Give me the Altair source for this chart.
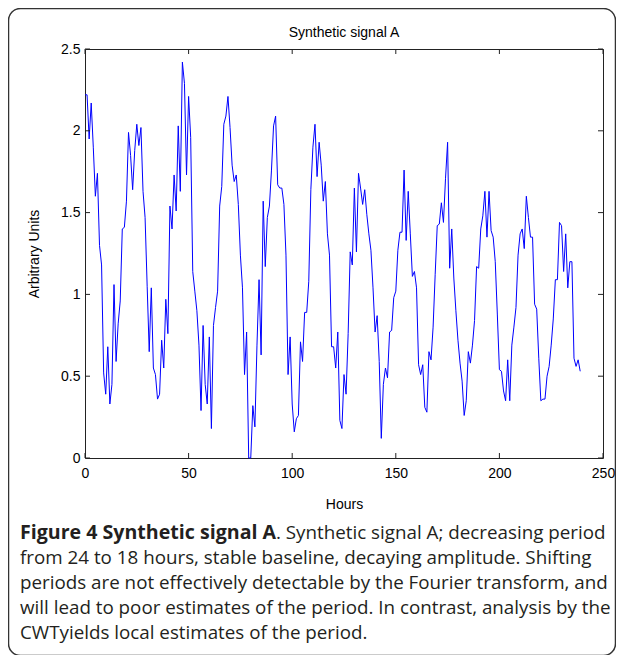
import altair as alt
import pandas as pd

hours = list(range(0, 240))
signal = [
    2.22, 2.22, 1.95, 2.17, 1.90, 1.60, 1.74, 1.30, 1.18, 0.52,
    0.39, 0.68, 0.33, 0.45, 1.06, 0.59, 0.82, 0.96, 1.40, 1.41,
    1.57, 1.99, 1.85, 1.64, 1.88, 2.04, 1.91, 2.02, 1.63, 1.47,
    1.05, 0.65, 1.04, 0.55, 0.51, 0.36, 0.39, 0.72, 0.55, 0.97,
    0.76, 1.54, 1.40, 1.73, 1.51, 2.03, 1.63, 2.42, 2.29, 1.73,
    2.21, 1.96, 1.14, 1.02, 0.90, 0.69, 0.29, 0.81, 0.45, 0.33,
    0.74, 0.18, 0.81, 0.92, 1.02, 1.54, 1.66, 2.04, 2.09, 2.21,
    2.02, 1.79, 1.69, 1.73, 1.55, 1.24, 1.04, 0.51, 0.77, 0.00,
    0.00, 0.32, 0.19, 0.69, 1.09, 0.63, 1.57, 1.17, 1.47, 1.54,
    1.76, 2.03, 2.09, 1.67, 1.65, 1.65, 1.55, 1.24, 0.51, 0.74,
    0.33, 0.16, 0.24, 0.26, 0.71, 0.59, 0.89, 0.89, 1.08, 1.64,
    1.90, 2.04, 1.72, 1.93, 1.79, 1.57, 1.69, 1.37, 1.24, 0.68,
    0.68, 0.55, 0.77, 0.23, 0.18, 0.51, 0.39, 0.76, 1.26, 1.18,
    1.65, 1.26, 1.74, 1.65, 1.55, 1.64, 1.49, 1.37, 1.27, 1.04,
    0.77, 0.87, 0.59, 0.12, 0.45, 0.55, 0.49, 0.77, 0.78, 0.98,
    1.02, 1.27, 1.38, 1.38, 1.76, 1.33, 1.63, 1.37, 1.11, 1.14,
    1.04, 0.57, 0.51, 0.57, 0.31, 0.28, 0.65, 0.60, 0.80, 1.12,
    1.42, 1.43, 1.56, 1.44, 1.71, 1.93, 1.16, 1.40, 1.10, 0.90,
    0.72, 0.58, 0.47, 0.26, 0.35, 0.65, 0.58, 0.69, 0.84, 1.17,
    1.16, 1.40, 1.48, 1.63, 1.35, 1.63, 1.39, 1.35, 1.20, 0.88,
    0.54, 0.53, 0.41, 0.35, 0.60, 0.35, 0.69, 0.80, 0.92, 1.24,
    1.37, 1.40, 1.28, 1.60, 1.47, 1.35, 1.35, 0.94, 0.91, 0.61,
    0.35, 0.36, 0.36, 0.50, 0.56, 0.69, 0.85, 1.09, 1.09, 1.44,
    1.42, 1.14, 1.37, 1.04, 1.20, 1.20, 0.61, 0.56, 0.60, 0.53,
]
x_ticks = [0, 50, 100, 150, 200, 250]
y_ticks = [0, 0.5, 1, 1.5, 2, 2.5]

chart_title = ["Synthetic signal A"]
x_title = "Hours"
y_title = "Arbitrary Units"
caption_bold = ["Figure 4 Synthetic signal A"]
caption_first = [". Synthetic signal A; decreasing period"]
caption_rest = [
    "from 24 to 18 hours, stable baseline, decaying amplitude. Shifting",
    "periods are not effectively detectable by the Fourier transform, and",
    "will lead to poor estimates of the period. In contrast, analysis by the",
    "CWTyields local estimates of the period.",
]

W, H = 518, 409
AX_FONT = "Liberation Sans"
CAP_FONT = "Open Sans"
CAP_SIZE = 18.8

df = pd.DataFrame({"Hours": hours, "Signal": signal})
xs = alt.Scale(domain=[0, 250], nice=False, zero=False)
ys = alt.Scale(domain=[0, 2.5], nice=False)

x_axis = alt.Axis(values=x_ticks, title=x_title, ticks=False, domain=False,
                  grid=False, labelFlush=False, labelPadding=8, titlePadding=17)
y_axis = alt.Axis(values=y_ticks, format="~g", title=y_title, ticks=False,
                  domain=False, grid=False, labelPadding=5, titlePadding=19)

line = alt.Chart(df).mark_line(color="#0000ff", strokeWidth=1).encode(
    x=alt.X("Hours:Q", scale=xs, axis=x_axis, title=x_title),
    y=alt.Y("Signal:Q", scale=ys, axis=y_axis, title=y_title),
)

xt = pd.DataFrame({"t": x_ticks})
yt = pd.DataFrame({"t": y_ticks})
tick_color = "#222222"
xb = alt.Chart(xt).mark_rule(color=tick_color, strokeWidth=1).encode(
    x=alt.X("t:Q", scale=xs, axis=x_axis, title=x_title),
    y=alt.value(H), y2=alt.value(H - 5))
xtp = alt.Chart(xt).mark_rule(color=tick_color, strokeWidth=1).encode(
    x=alt.X("t:Q", scale=xs, axis=x_axis, title=x_title),
    y=alt.value(0), y2=alt.value(5))
yl = alt.Chart(yt).mark_rule(color=tick_color, strokeWidth=1).encode(
    y=alt.Y("t:Q", scale=ys, axis=y_axis, title=y_title),
    x=alt.value(0), x2=alt.value(5))
yr = alt.Chart(yt).mark_rule(color=tick_color, strokeWidth=1).encode(
    y=alt.Y("t:Q", scale=ys, axis=y_axis, title=y_title),
    x=alt.value(W), x2=alt.value(W - 5))

box = alt.Chart(pd.DataFrame({"b": [0]})).mark_rect(
    filled=False, stroke="#333333", strokeWidth=1.5, cornerRadius=12
).encode(x=alt.value(-76.5), x2=alt.value(530.5), y=alt.value(-40.5), y2=alt.value(606.5))

title_mark = alt.Chart(pd.DataFrame({"c": chart_title})).mark_text(
    font=AX_FONT, fontSize=14, align="center", baseline="alphabetic", color="black"
).encode(text="c:N", x=alt.value(W / 2), y=alt.value(-12))

cap1 = alt.Chart(pd.DataFrame({"c": caption_bold})).mark_text(
    font=CAP_FONT, fontSize=19.6, fontWeight="bold", align="left",
    baseline="alphabetic", color="#231f20"
).encode(text="c:N", x=alt.value(-65), y=alt.value(490))

cap2 = alt.Chart(pd.DataFrame({"c": caption_first})).mark_text(
    font=CAP_FONT, fontSize=CAP_SIZE, align="left",
    baseline="alphabetic", color="#231f20"
).encode(text="c:N", x=alt.value(191), y=alt.value(490))

cap3 = alt.Chart(pd.DataFrame({"c": ["\n".join(caption_rest)]})).mark_text(
    font=CAP_FONT, fontSize=CAP_SIZE, align="left", baseline="alphabetic",
    lineBreak="\n", lineHeight=25, color="#231f20"
).encode(text="c:N", x=alt.value(-65), y=alt.value(515))

chart = alt.layer(line, xb, xtp, yl, yr, box, title_mark, cap1, cap2, cap3).properties(
    width=W, height=H,
    autosize=alt.AutoSizeParams(type="none"),
    padding={"left": 77, "top": 41, "right": 13, "bottom": 197},
    background="white",
).configure_view(stroke="#222222", strokeWidth=1).configure_axis(
    labelFont=AX_FONT, labelFontSize=14, labelColor="black",
    titleFont=AX_FONT, titleFontSize=14, titleFontWeight="normal", titleColor="black",
)

chart.save("out.html", embed_options={"renderer": "svg", "actions": False})
